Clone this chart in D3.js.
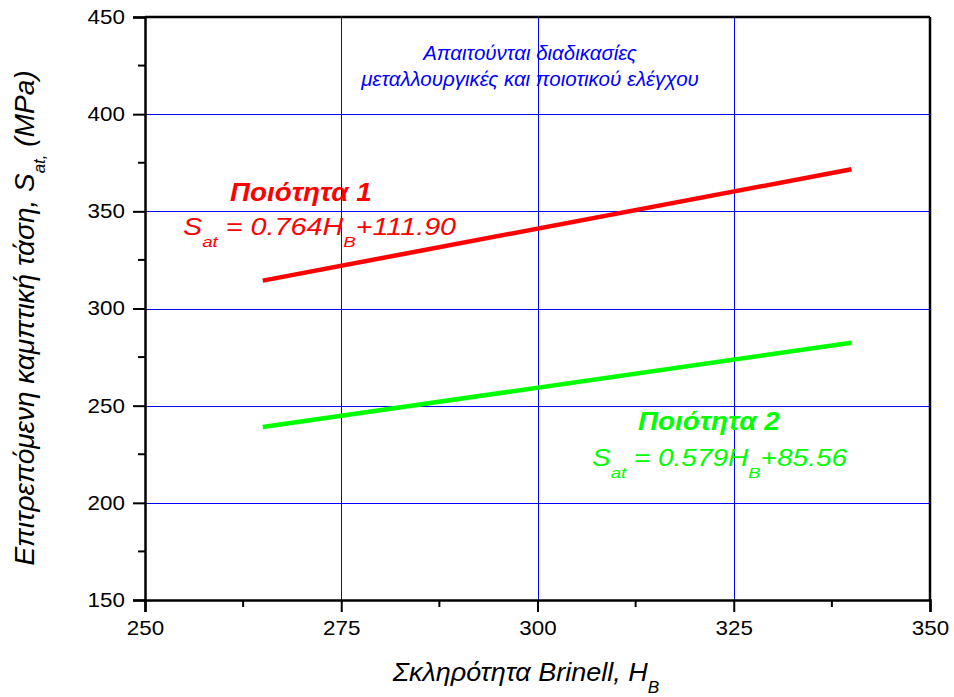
<!DOCTYPE html>
<html><head><meta charset="utf-8">
<script src="https://cdn.jsdelivr.net/npm/d3@7"></script>
<style>body{margin:0;background:#fff;} svg{display:block;font-family:"Liberation Sans",Arial,sans-serif;}</style>
</head><body>
<script>
// Data
const hbRange = [265, 340];
const series = [
  {name: "Ποιότητα 1", slope: 0.764, intercept: 111.90, color: "#ff0000"},
  {name: "Ποιότητα 2", slope: 0.579, intercept: 85.56, color: "#00ff00"}
];
const xTicks = [250, 275, 300, 325, 350];
const yTicks = [150, 200, 250, 300, 350, 400, 450];
const annotation = ["Απαιτούνται διαδικασίες", "μεταλλουργικές και ποιοτικού ελέγχου"];

const W = 954, H = 697;
const m = {l:145, r:24, t:17, b:97};
const svg = d3.select("body").append("svg").attr("width", W).attr("height", H);
const x = d3.scaleLinear().domain([250, 350]).range([m.l, W - m.r]);
const y = d3.scaleLinear().domain([150, 450]).range([H - m.b, m.t]);

// grid
const g = svg.append("g");
g.selectAll(".vg").data(xTicks.slice(1, -1)).enter().append("line")
  .attr("x1", d => Math.round(x(d)) + 0.5).attr("x2", d => Math.round(x(d)) + 0.5)
  .attr("y1", y(450)).attr("y2", y(150)).attr("stroke", "#0000ff").attr("stroke-width", 1);
g.selectAll(".hg").data(yTicks.slice(1, -1)).enter().append("line")
  .attr("y1", d => Math.round(y(d)) + 0.5).attr("y2", d => Math.round(y(d)) + 0.5)
  .attr("x1", x(250)).attr("x2", x(350)).attr("stroke", "#0000ff").attr("stroke-width", 1);

// frame top/right
svg.append("line").attr("x1", x(250)).attr("x2", x(350)).attr("y1", y(450)).attr("y2", y(450)).attr("stroke", "#000").attr("stroke-width", 2.5);
svg.append("line").attr("x1", x(350)).attr("x2", x(350)).attr("y1", y(450)).attr("y2", y(150)).attr("stroke", "#000").attr("stroke-width", 2.5);

// axes
const xAxis = d3.axisBottom(x).tickValues(xTicks).tickSize(12).tickPadding(9).tickFormat(d3.format("d"));
const yAxis = d3.axisLeft(y).tickValues(yTicks).tickSize(12).tickPadding(6).tickFormat(d3.format("d"));
const xg = svg.append("g").attr("transform", `translate(0,${y(150)})`).call(xAxis);
const yg = svg.append("g").attr("transform", `translate(${x(250)},0)`).call(yAxis);
[xg, yg].forEach(a => {
  a.select(".domain").attr("stroke", "#000").attr("stroke-width", 2.5);
  a.selectAll(".tick line").attr("stroke", "#000").attr("stroke-width", 2);
  a.selectAll("text").attr("font-size", 20).attr("fill", "#000")
    .attr("font-family", "Liberation Sans, Arial, sans-serif")
    .attr("transform", "scale(1.12,1)");
});
// minor ticks
const xMinor = d3.range(262.5, 350, 25);
const yMinor = d3.range(175, 450, 50);
svg.selectAll(".xm").data(xMinor).enter().append("line")
  .attr("x1", d => x(d)).attr("x2", d => x(d)).attr("y1", y(150)).attr("y2", y(150) + 7)
  .attr("stroke", "#000").attr("stroke-width", 2);
svg.selectAll(".ym").data(yMinor).enter().append("line")
  .attr("y1", d => y(d)).attr("y2", d => y(d)).attr("x1", x(250)).attr("x2", x(250) - 7)
  .attr("stroke", "#000").attr("stroke-width", 2);

// lines
const line = d3.line().x(d => x(d[0])).y(d => y(d[1]));
series.forEach(s => {
  const pts = hbRange.map(h => [h, s.slope * h + s.intercept]);
  svg.append("path").attr("d", line(pts)).attr("fill", "none")
    .attr("stroke", s.color).attr("stroke-width", 4.5);
});

// stretched text helper
function stext(px, py, sx) {
  return svg.append("g").attr("transform", `translate(${px},${py}) scale(${sx},1)`).append("text");
}

// labels
function label(s, nx, ny, ex, ey, sx) {
  stext(nx, ny, 1.07).attr("font-size", 26).attr("font-weight", "bold")
    .attr("font-style", "italic").attr("fill", s.color).text(s.name);
  const t = stext(ex, ey, sx).attr("font-size", 23)
    .attr("font-style", "italic").attr("fill", s.color);
  t.append("tspan").text("S");
  t.append("tspan").attr("font-size", 15).attr("dy", 12).text("at");
  t.append("tspan").attr("dy", -12).text(` = ${s.slope.toFixed(3)}H`);
  t.append("tspan").attr("font-size", 15).attr("dy", 12).text("B");
  t.append("tspan").attr("dy", -12).text(`+${s.intercept.toFixed(2)}`);
}
label(series[0], 230, 201, 183, 235, 1.25);
label(series[1], 638, 430, 592, 466, 1.22);

// annotation
svg.selectAll(".ann").data(annotation).enter().append("text")
  .attr("x", 530).attr("y", (d, i) => 60 + i * 26).attr("text-anchor", "middle")
  .attr("font-size", 20.5).attr("font-style", "italic").attr("fill", "#0000ff").text(d => d);

// axis titles
const xt = stext(526, 681, 1.08).attr("text-anchor", "middle")
  .attr("font-size", 25).attr("font-style", "italic").attr("fill", "#000");
xt.append("tspan").text("Σκληρότητα Brinell, H");
xt.append("tspan").attr("font-size", 16).attr("dy", 12).text("B");

const yt = svg.append("text").attr("transform", `translate(34,318) rotate(-90)`).attr("text-anchor", "middle")
  .attr("font-size", 28).attr("font-style", "italic").attr("fill", "#000");
yt.append("tspan").text("Επιτρεπόμενη καμπτική τάση, S");
yt.append("tspan").attr("font-size", 17).attr("dy", 11).text("at,");
yt.append("tspan").attr("dy", -11).text(" (MPa)");
</script>
</body></html>
